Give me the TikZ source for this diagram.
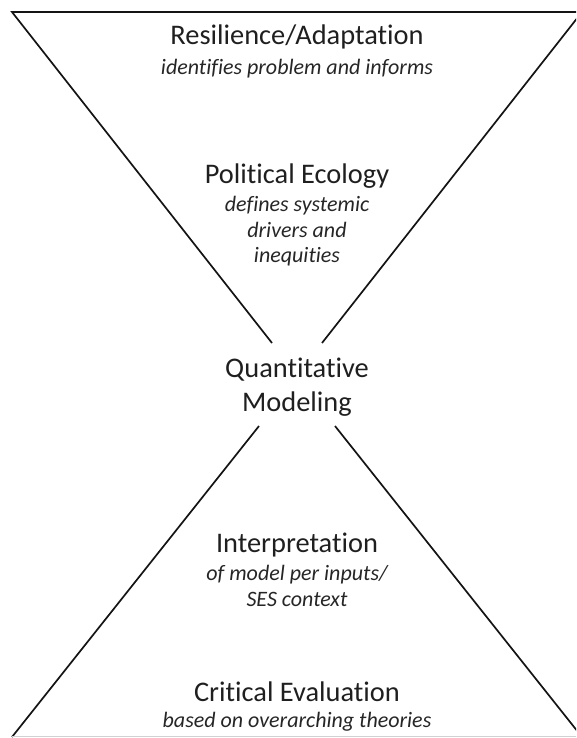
\documentclass[tikz,border=0pt]{standalone}
\usepackage{fontspec}
\setmainfont{Carlito}[Ligatures=NoCommon]
\usepackage{tikz}

\tikzset{
  headtext/.style={font=\fontsize{28.4}{34}\selectfont, text=black!88, align=center, anchor=base},
  subtext/.style={font=\fontsize{22}{25.6}\selectfont\itshape, text=black!85, align=center, anchor=base},
  sideline/.style={black!92, line width=1.7pt, line join=miter}
}

\begin{document}
\begin{tikzpicture}[x=1pt,y=-1pt]
\tikzstyle{every node}+=[inner sep=0pt]
\useasboundingbox (0,0) rectangle (576,738);
\clip (0,0) rectangle (576,738);
% funnel, upper triangle
\coordinate (tl) at (12,12);
\coordinate (tr) at (582,12);
\coordinate (al) at (272,343);
\coordinate (ar) at (322,343);
\draw [sideline] (al) -- (tl) -- (tr) -- (ar);
% lower triangle
\coordinate (bl) at (12,737);
\coordinate (br) at (582,737);
\coordinate (cl) at (259,426);
\coordinate (cr) at (335,426);
\draw [sideline] (cl) -- (bl);
\draw [sideline] (cr) -- (br);
\draw [black!18, line width=0.8pt] (12,736) -- (582,736);
% labels (base = last line)
\node [headtext] (resil) at (297,44.3) {Resilience/Adaptation};
\node [subtext] (resilnote) at (297,75) {identifies problem and informs};
\node [headtext] (polec) at (297,183.3) {Political Ecology};
\node [subtext] (polecnote) at (297,262.7) {defines systemic\\drivers and\\inequities};
\node [headtext] (quant) at (297,411) {Quantitative\\Modeling};
\node [headtext] (interp) at (297,552.3) {Interpretation};
\node [subtext] (interpnote) at (297,606) {of model per inputs/\\SES context};
\node [headtext] (crit) at (297,701) {Critical Evaluation};
\node [subtext] (critnote) at (297,727.3) {based on overarching theories};
\end{tikzpicture}
\end{document}
